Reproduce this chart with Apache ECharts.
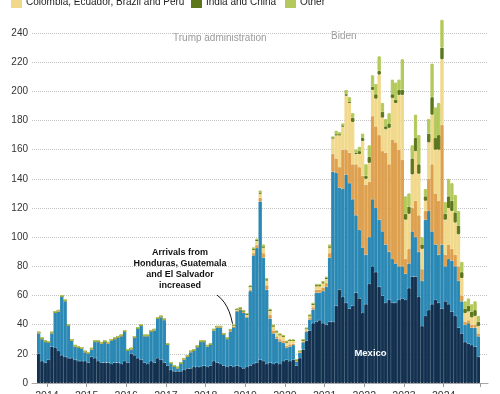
<!DOCTYPE html>
<html><head><meta charset="utf-8">
<script src="https://cdn.jsdelivr.net/npm/echarts@6/dist/echarts.min.js"></script>
<style>html,body{margin:0;padding:0;background:#fff}#c{width:500px;height:394px}</style>
</head><body><div id="c"></div>
<script>
// Monthly border apprehensions (thousands), Oct 2013 – Nov 2024
const months = [];
for (let y = 2013, m = 10; months.length < 134;) {
  months.push(y + '-' + String(m).padStart(2, '0'));
  m++; if (m > 12) { m = 1; y++; }
}
const yearLabels = ['2014','2015','2016','2017','2018','2019','2020','2021','2022','2023','2024'];
const yTicks = [0,20,40,60,80,100,120,140,160,180,200,220,240];

const mexico = [20,15,14,16,25,24,22,19,18,17, 17,16,15,15,15,14,18,17,15,14,
  14,14,13,14,14,13,15,14,20,19, 17,16,14,13,15,14,17,16,14,12,
  9,8,8,8,9,10,10,11,11,11, 12,11,12,15,14,13,12,11,12,11,
  12,11,10,11,12,13,14,16,15,13, 14,13,14,13,15,16,15,16,12,17,
  23,29,36,41,42,43,41,40,42,42, 53,64,59,55,51,53,62,58,48,54,
  68,80,76,66,60,55,57,55,55,57, 58,57,65,73,73,59,39,46,50,54,
  57,55,51,56,54,49,46,38,34,28, 27,26,25,18];
const northernTriangle = [14.4,15.4,14.4,11.9,9.4,24.4,27.4,40.4,38.4,22.4,
  12.4,9.4,9.4,8.9,6.4,6.4,5.4,11.4,13.4,13.4, 14.4,13.4,16.4,16.4,17.4,19.4,20.4,8.4,3.4,12.4,
  20.4,23.4,18.4,19.4,20.4,22.4,27.4,29.4,29.4,14.4, 4.4,3.4,2.4,5.4,7.4,8.4,11.4,11.4,13.9,17.4,
  16.4,14.4,14.4,21.4,24.4,25.4,21.4,19.4,23.3,27.3, 37.3,39.3,38.3,34,51,74.5,78.5,108.5,71,51,
  30.2,21,16.5,15.5,12.5,8,10,10,2.8,3.8, 5,6.2,7.5,9.4,20,19,22,26,44,103,
  91,70,74,88,86,73,53,47,45,34, 32,46,44,46,44,40,33,30,27,23,
  22,18,17,31,27,31,31,66,68,50, 38,33,44,24,31,35,34,32,22,12, 14,12,13,14];
const venezuelaCubaHaitiNicaragua = [0,0,0,0,0,0,0,0,0,0, 0,0,0,0,0,0,0,0,0,0,
  0,0,0,0,0,0,0,0,0,0, 0,0,0,0,0,0,0,0,0,0, 0,0,0,0,0,0,0,0,0,0,
  0,0,0,0,0,0,0,0,0.3,0.3, 0.3,0.3,0.3,0.5,1,1.5,2,2.5,3,3,
  2.5,2,1.5,1.5,1.5,1.5,1.5,1,0.3,0.3, 0.5,0.8,1,1.5,2,2,2.5,2.5,3,12,
  10,14,27,17,21,24,35,43,49,48, 38,57,56,58,55,63,60,82,83,80,
  73,10,10,16,25,25,8,6,22,46, 35,37,82,8,10,8,8,10,4,2, 2,2,2,2];
const colombiaEcuadorBrazilPeru = [0.3,0.3,0.3,0.3,0.3,0.3,0.3,0.3,0.3,0.3,
  0.3,0.3,0.3,0.3,0.3,0.3,0.3,0.3,0.3,0.3, 0.3,0.3,0.3,0.3,0.3,0.3,0.3,0.3,0.3,0.3,
  0.3,0.3,0.3,0.3,0.3,0.3,0.3,0.3,0.3,0.3, 0.3,0.3,0.3,0.3,0.3,0.3,0.3,0.3,0.3,0.3,
  0.3,0.3,0.3,0.3,0.3,0.3,0.3,0.3,0.8,0.8, 0.8,0.8,0.8,1.5,2,2.5,3,3,4,3.5,
  3,3,3,3,3,2.5,2.5,2,0.5,0.5, 0.8,1.2,1.5,2,2.5,2.5,3,3,4,11,
  16,22,16,37,34,29,7,9,24,4, 13,18,19,41.5,23,16,25,28.5,27,37.6,
  44.6,27,24,23,34,28.5,14,7,25,34, 30,35,45,24,25,26,22,22,12,6, 6,5,6,5];
const indiaChina = [0,0,0,0,0,0,0,0,0,0, 0,0,0,0,0,0,0,0,0,0,
  0,0,0,0,0,0,0,0,0,0, 0,0,0,0,0,0,0,0,0,0, 0,0,0,0,0,0,0,0,0,0,
  0,0,0,0,0,0,0,0,0.1,0.1, 0.1,0.1,0.1,0.3,0.3,0.5,0.5,0.5,0.5,0.5,
  0.3,0.3,0.3,0.3,0.3,0.3,0.3,0.3,0.1,0.1, 0.2,0.2,0.3,0.3,0.5,0.5,0.5,0.5,0.5,0.3,
  0.5,0.5,0.5,1,1,3,1,2,2,2, 4,2,3,2.5,4,2,3,2.5,2.3,3.4,
  3.4,4,5,11,9,6.5,3,3,6,12, 8,10,8,4,8,7,7,6,4,3, 4,4,4,3];
const other = [0.3,0.3,0.3,0.3,0.3,0.3,0.3,0.3,0.3,0.3,
  0.3,0.3,0.3,0.3,0.3,0.3,0.3,0.3,0.3,0.3, 0.3,0.3,0.3,0.3,0.3,0.3,0.3,0.3,0.3,0.3,
  0.3,0.3,0.3,0.3,0.3,0.3,0.3,0.3,0.3,0.3, 0.3,0.3,0.3,0.3,0.3,0.3,0.3,0.3,0.3,0.3,
  0.3,0.3,0.3,0.3,0.3,0.3,0.3,0.3,0.5,0.5, 0.5,0.5,0.5,0.7,0.7,1,1,1.5,1.5,1,
  1,0.7,0.7,0.7,0.7,0.7,0.7,0.7,0.3,0.3, 0.5,0.6,0.7,0.8,1,1,1,1,1.5,0.7,
  2.5,1.5,1.5,3,3,3,2,3,3,8, 8,8,7,10,6,5,7,10,11.7,7,
  21,12,9,9,16,20,5,5,10,23, 21,22,19,8,12,12,12,10,7,5, 5,5,6,4];

const adminMarks = [{ month: '2017-01', label: 'Trump administration' }, { month: '2021-01', label: 'Biden' }];

const FONT = '"Liberation Sans", Arial, sans-serif';
const colors = {
  mexico: '#12304f', nt: '#2a88b4', vcn: '#dea04e', cebp: '#f1d98c', ic: '#5c761c', other: '#b3c95b'
};

const chart = echarts.init(document.getElementById('c'), null, { renderer: 'canvas' });

function barSeries(name, data, color) {
  return {
    name, type: 'bar', stack: 'total', data, xAxisIndex: 1, yAxisIndex: 1,
    barCategoryGap: '0%', clip: false,
    itemStyle: { color, borderColor: color, borderWidth: 1 }, silent: true,
    emphasis: { disabled: true }
  };
}
const isJan = (i) => months[i].endsWith('-01');

function legendItem(name, left) {
  return {
    data: [name], left, top: -3, itemWidth: 9, itemHeight: 9, icon: 'rect',
    selectedMode: false, padding: 0,
    textStyle: { fontSize: 10, color: '#222', fontFamily: FONT }
  };
}

chart.setOption({
  animation: false,
  textStyle: { fontFamily: FONT },
  legend: [
    legendItem('Colombia, Ecuador, Brazil and Peru', 11),
    legendItem('India and China', 191),
    legendItem('Other', 285)
  ],
  grid: [
    { left: 32, right: 12, top: 33, bottom: 11, outerBoundsMode: 'none', containLabel: false },
    { left: 37, right: 20, top: 33, bottom: 11, outerBoundsMode: 'none', containLabel: false }
  ],
  xAxis: [
    { type: 'value', gridIndex: 0, min: 0, max: 1,
      axisLine: { show: true, lineStyle: { color: '#a8a8a8', width: 1 } },
      axisTick: { show: false }, axisLabel: { show: false }, splitLine: { show: false } },
    { type: 'category', gridIndex: 1, data: months, boundaryGap: true,
      axisLine: { show: false },
      axisTick: { show: true, length: 4, interval: (i) => isJan(i), lineStyle: { color: '#999' } },
      axisLabel: { interval: (i) => isJan(i), formatter: (v) => yearLabels[yearLabels.indexOf(v.slice(0, 4))],
        fontSize: 10.5, color: '#333', margin: 8, padding: [0, 3.3, 0, 0] } },
    { type: 'value', gridIndex: 1, min: 0, max: months.length, show: false }
  ],
  yAxis: [
    { type: 'value', gridIndex: 0, min: yTicks[0], max: yTicks[yTicks.length - 1], interval: 20,
      axisLine: { show: false }, axisTick: { show: false },
      axisLabel: { fontSize: 10, color: '#333', margin: 4 },
      splitLine: { lineStyle: { type: 'dotted', color: '#c4c4c4', width: 1 } } },
    { type: 'value', gridIndex: 1, min: 0, max: 240, show: false }
  ],
  series: [
    barSeries('Mexico', mexico, colors.mexico),
    barSeries('Honduras, Guatemala and El Salvador', northernTriangle, colors.nt),
    barSeries('Venezuela, Cuba, Haiti and Nicaragua', venezuelaCubaHaitiNicaragua, colors.vcn),
    barSeries('Colombia, Ecuador, Brazil and Peru', colombiaEcuadorBrazilPeru, colors.cebp),
    barSeries('India and China', indiaChina, colors.ic),
    barSeries('Other', other, colors.other),
    { type: 'line', xAxisIndex: 2, yAxisIndex: 1, data: [], clip: false, z: 10, silent: true,
      markLine: { silent: true, symbol: ['none', 'none'], animation: false,
        label: { show: false },
        lineStyle: { type: 'dotted', color: '#a0a0a0', width: 1 },
        data: adminMarks.map(a => {
          const i = months.indexOf(a.month);
          return [{ coord: [i, 0] }, { coord: [i, 249] }];
        }) } }
  ],
  graphic: [
    { type: 'text', left: 173, top: 33, silent: true,
      style: { text: adminMarks[0].label, fontSize: 10, fill: '#999', fontFamily: FONT } },
    { type: 'text', left: 331, top: 31, silent: true,
      style: { text: adminMarks[1].label, fontSize: 10, fill: '#999', fontFamily: FONT } },
    { type: 'text', x: 180, y: 247, silent: true,
      style: { text: 'Arrivals from\nHonduras, Guatemala\nand El Salvador\nincreased',
        fontSize: 9, fontWeight: 'bold', fill: '#111', align: 'center', lineHeight: 11, fontFamily: FONT } },
    { type: 'bezierCurve', silent: true,
      shape: { x1: 217, y1: 295, cpx1: 228, cpy1: 303, cpx2: 233, cpy2: 318, x2: 234, y2: 337 },
      style: { stroke: '#111', lineWidth: 1, fill: null } },
    { type: 'text', x: 370.5, y: 353, silent: true, z: 100,
      style: { text: 'Mexico', fontSize: 9.5, fontWeight: 'bold', fill: '#fff', align: 'center',
        verticalAlign: 'middle', fontFamily: FONT } }
  ]
});
</script>
</body></html>
